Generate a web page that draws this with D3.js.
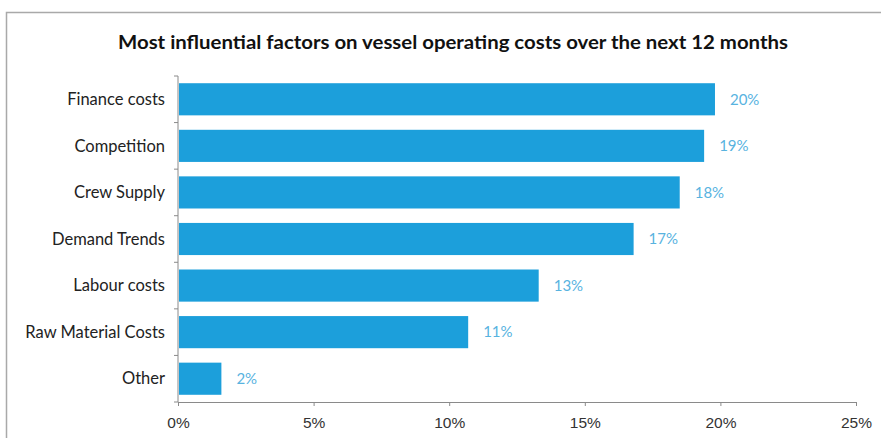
<!DOCTYPE html>
<html lang="en">
<meta charset="utf-8">
<head>
    <script src="https://d3js.org/d3.v7.min.js"></script>
    <style>
        body { margin: 0; background: #fff; }
    </style>
</head>
<body>
<script>
    // data
    var factors = ["Finance costs", "Competition", "Crew Supply", "Demand Trends", "Labour costs", "Raw Material Costs", "Other"];
    var shares = [19.8, 19.4, 18.5, 16.8, 13.3, 10.7, 1.6];
    var shareLabels = ["20%", "19%", "18%", "17%", "13%", "11%", "2%"];
    var xTicks = [0, 5, 10, 15, 20, 25];

    var width = 881, height = 438;
    var plotLeft = 178, plotRight = 856, plotTop = 76, plotBottom = 402;

    var svg = d3.select("body")
        .append("svg")
        .attr("width", width)
        .attr("height", height)
        .style("font-family", "Lato, 'Open Sans', sans-serif");

    // frame of the chart area
    svg.append("rect")
        .attr("x", 6.5)
        .attr("y", 12.5)
        .attr("width", 900)
        .attr("height", 500)
        .attr("fill", "none")
        .attr("stroke", "#a9a9a9")
        .attr("stroke-width", 1.5);

    svg.append("text")
        .attr("x", 453)
        .attr("y", 49)
        .attr("text-anchor", "middle")
        .attr("textLength", 670)
        .attr("lengthAdjust", "spacingAndGlyphs")
        .style("font-size", "19px")
        .style("font-weight", "bold")
        .style("fill", "#111")
        .text("Most influential factors on vessel operating costs over the next 12 months");

    var x = d3.scaleLinear()
        .domain([0, 25])
        .range([plotLeft, plotRight]);

    var y = d3.scaleBand()
        .domain(factors)
        .range([plotTop, plotBottom])
        .paddingInner(0.31)
        .paddingOuter(0.155);

    // x axis
    var xaxis = svg.append("g")
        .attr("transform", "translate(0," + plotBottom + ")")
        .call(d3.axisBottom(x)
            .tickValues(xTicks)
            .tickFormat(function(d) { return d + "%"; })
            .tickSizeInner(4)
            .tickSizeOuter(0));
    xaxis.select(".domain").attr("stroke", "#8a8a8a");
    xaxis.selectAll(".tick line").attr("stroke", "#8a8a8a");
    xaxis.selectAll("text")
        .attr("dy", "1.2em")
        .style("font-size", "15.5px")
        .style("fill", "#333");

    // y axis, ticks sit between categories like the original
    var yaxis = svg.append("g")
        .attr("transform", "translate(" + plotLeft + ",0)");
    yaxis.append("line")
        .attr("x1", 0).attr("x2", 0)
        .attr("y1", plotTop).attr("y2", plotBottom)
        .attr("stroke", "#8a8a8a");
    var edges = d3.range(factors.length + 1).map(function(i) {
        return plotTop + i * (plotBottom - plotTop) / factors.length;
    });
    yaxis.selectAll(".ytick")
        .data(edges)
        .enter()
        .append("line")
        .attr("x1", -4).attr("x2", 0)
        .attr("y1", function(d) { return d; })
        .attr("y2", function(d) { return d; })
        .attr("stroke", "#8a8a8a");
    yaxis.selectAll(".ylabel")
        .data(factors)
        .enter()
        .append("text")
        .attr("x", -13)
        .attr("y", function(d) { return y(d) + y.bandwidth() / 2; })
        .attr("dy", "0.35em")
        .attr("text-anchor", "end")
        .style("font-size", "16.5px")
        .style("fill", "#222")
        .text(function(d) { return d; });

    var bar = svg.selectAll(".bar")
        .data(factors)
        .enter()
        .append("g");

    bar.append("rect")
        .attr("x", x(0) + 1)
        .attr("y", function(d) { return y(d); })
        .attr("width", function(d, i) { return x(shares[i]) - x(0) - 1; })
        .attr("height", y.bandwidth())
        .style("fill", "#1c9fdb");

    bar.append("text")
        .attr("x", function(d, i) { return x(shares[i]) + 15; })
        .attr("y", function(d) { return y(d) + y.bandwidth() / 2; })
        .attr("dy", "0.35em")
        .style("font-size", "15px")
        .style("fill", "#58b3df")
        .text(function(d, i) { return shareLabels[i]; });
</script>
</body>
</html>
